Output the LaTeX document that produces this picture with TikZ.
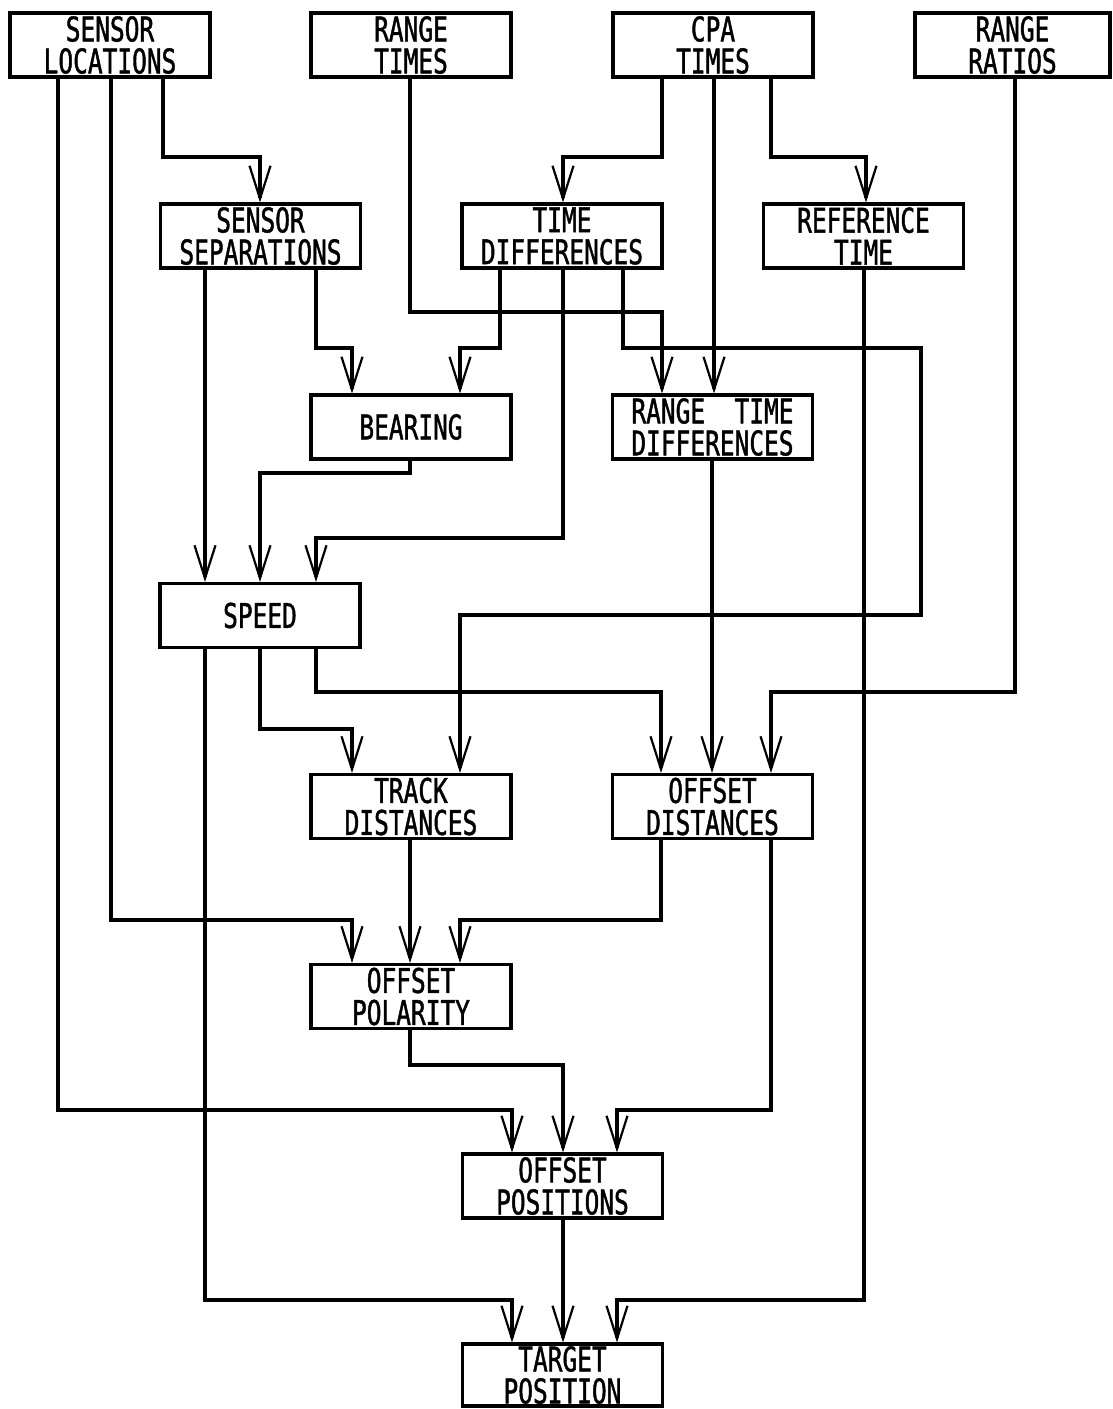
\documentclass[tikz,border=0pt]{standalone}
\usepackage{fontspec}
\newfontfamily\lett[FakeStretch=0.72,FakeBold=1.2]{DejaVu Sans Mono}
\usetikzlibrary{arrows.meta}
\begin{document}
\begin{tikzpicture}[x=1pt,y=-1pt,
  box/.style={draw,line width=3.2pt,minimum width=200pt,minimum height=64pt,inner sep=0pt,
    align=center,font=\lett\fontsize{34}{32}\selectfont},
  arr/.style={line width=3.4pt,-{Straight Barb[length=33pt,width=21pt,line width=2.2pt]}}]
\useasboundingbox (0,0) rectangle (1112,1409);
% nodes
\node[box] (SL) at (110,45) {SENSOR\\LOCATIONS};
\node[box] (RT) at (411,45) {RANGE\\TIMES};
\node[box] (CPA) at (713,45) {CPA\\TIMES};
\node[box,minimum width=195pt] (RR) at (1012.5,45) {RANGE\\RATIOS};
\node[box] (SS) at (260.5,236) {SENSOR\\SEPARATIONS};
\node[box] (TD) at (562,236) {TIME\\DIFFERENCES};
\node[box] (REF) at (863.5,236) {REFERENCE\\TIME};
\node[box] (BEAR) at (411,427) {BEARING};
\node[box] (RTD) at (712.5,427) {RANGE~~TIME\\DIFFERENCES};
\node[box] (SPEED) at (260,615.5) {SPEED};
\node[box] (TRK) at (411,806.5) {TRACK\\DISTANCES};
\node[box] (OD) at (712.5,806.5) {OFFSET\\DISTANCES};
\node[box] (OP) at (411,996.5) {OFFSET\\POLARITY};
\node[box] (OPOS) at (562.5,1186) {OFFSET\\POSITIONS};
\node[box,minimum height=62pt] (TP) at (562.5,1375) {TARGET\\POSITION};
% connectors
\draw[arr] (SL.south -| 163,0) |- (260,157) -- (SS.north -| 260,0);
\draw[arr] (SL.south -| 111,0) |- (352,920) -- (OP.north -| 352,0);
\draw[arr] (SL.south -| 58,0) |- (512,1110) -- (OPOS.north -| 512,0);
\draw[arr] (RT.south -| 410,0) |- (662,312) -- (RTD.north -| 662,0);
\draw[arr] (CPA.south -| 662,0) |- (563,157) -- (TD.north -| 563,0);
\draw[arr] (CPA.south -| 714,0) -- (RTD.north -| 714,0);
\draw[arr] (CPA.south -| 771,0) |- (866,157) -- (REF.north -| 866,0);
\draw[arr] (RR.south -| 1015,0) |- (771,692) -- (OD.north -| 771,0);
\draw[arr] (SS.south -| 205,0) -- (SPEED.north -| 205,0);
\draw[arr] (SS.south -| 316,0) |- (352,348) -- (BEAR.north -| 352,0);
\draw[arr] (TD.south -| 500,0) |- (460,348) -- (BEAR.north -| 460,0);
\draw[arr] (TD.south -| 563,0) |- (316,538) -- (SPEED.north -| 316,0);
\draw[arr] (TD.south -| 623,0) |- (921,348) |- (460,615) -- (TRK.north -| 460,0);
\draw[arr] (REF.south -| 864,0) |- (617,1300) -- (TP.north -| 617,0);
\draw[arr] (BEAR.south -| 410,0) |- (260,473) -- (SPEED.north -| 260,0);
\draw[arr] (RTD.south -| 712,0) -- (OD.north -| 712,0);
\draw[arr] (SPEED.south -| 205,0) |- (512,1300) -- (TP.north -| 512,0);
\draw[arr] (SPEED.south -| 260,0) |- (352,729) -- (TRK.north -| 352,0);
\draw[arr] (SPEED.south -| 316,0) |- (661,692) -- (OD.north -| 661,0);
\draw[arr] (TRK.south -| 410,0) -- (OP.north -| 410,0);
\draw[arr] (OD.south -| 661,0) |- (460,920) -- (OP.north -| 460,0);
\draw[arr] (OD.south -| 771,0) |- (617,1110) -- (OPOS.north -| 617,0);
\draw[arr] (OP.south -| 410,0) |- (563,1065) -- (OPOS.north -| 563,0);
\draw[arr] (OPOS.south -| 563,0) -- (TP.north -| 563,0);
\end{tikzpicture}
\end{document}
